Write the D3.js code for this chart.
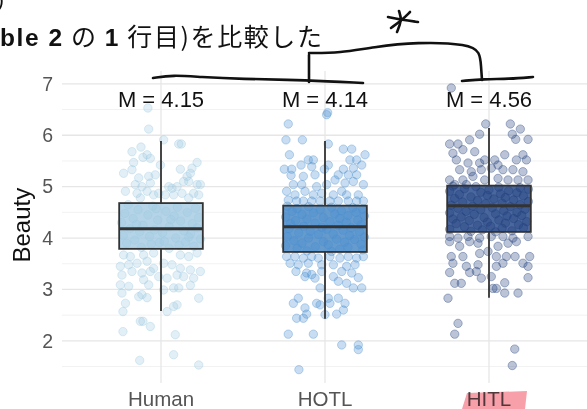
<!DOCTYPE html>
<html>
<head>
<meta charset="utf-8">
<script src="https://cdn.jsdelivr.net/npm/d3@7/dist/d3.min.js"></script>
<style>
html,body{margin:0;padding:0;background:#fff;}
svg{display:block;font-family:"Liberation Sans",Arial,sans-serif;}
</style>
</head>
<body>
<div id="chart"></div>
<script>
// groups and summary numbers
var groups = ["Human", "HOTL", "HITL"];
var means = [4.15, 4.14, 4.56];
var q1 = [3.79, 3.73, 4.12];
var medians = [4.18, 4.22, 4.63];
var q3 = [4.68, 4.63, 5.02];
var whiskLo = [2.58, 2.43, 2.84];
var whiskHi = [5.89, 5.89, 6.14];
var yTicks = [2, 3, 4, 5, 6, 7];

// jittered ratings: [value, horizontal jitter in category units]
var humanPts = [
	[6.53,-0.08],[6.12,-0.075],[5.91,0.016],[5.83,0.108],[5.83,0.124],[5.77,-0.122],[5.68,-0.177],[5.62,-0.085],
	[5.57,-0.11],[5.55,-0.065],[5.42,-0.004],[5.47,-0.167],[5.34,0.118],[5.36,0.189],[5.47,0.22],[5.26,-0.228],
	[5.33,-0.177],[5.17,-0.136],[5.2,-0.075],[5.23,-0.035],[5.2,0.159],[5.26,0.179],[5.04,-0.157],[5.0,-0.116],
	[5.07,-0.065],[5.0,0.047],[4.97,0.067],[5.0,0.098],[5.1,0.138],[5.1,0.169],[5.04,0.22],[5.04,0.24],
	[4.91,-0.217],[4.87,-0.146],[4.91,-0.085],[4.84,-0.045],[4.87,-0.014],[4.84,0.026],[4.84,0.077],[4.87,0.128],
	[4.87,0.199],[4.84,0.23],[4.78,-0.126],[4.78,0.169],
	[4.65,-0.2],[4.62,-0.05],[4.6,0.1],[4.58,0.21],[4.55,-0.14],[4.52,0.03],[4.5,0.16],[4.48,-0.22],[4.45,-0.08],
	[4.43,0.08],[4.4,0.23],[4.38,-0.17],[4.35,-0.02],[4.33,0.12],[4.3,-0.24],[4.28,0.19],[4.25,-0.11],[4.22,0.05],
	[4.2,0.22],[4.18,-0.19],[4.16,-0.04],[4.14,0.14],[4.12,-0.13],[4.1,0.01],[4.08,0.18],[4.05,-0.23],[4.03,-0.07],
	[4.0,0.09],[3.98,0.24],[3.96,-0.16],[3.94,0.02],[3.92,0.15],[3.9,-0.21],[3.88,-0.06],[3.86,0.11],[3.84,0.2],
	[3.82,-0.12],[3.8,0.05],[4.57,-0.03],[4.36,0.06],[4.27,-0.15],[4.02,0.17],[3.91,-0.01],
	[3.67,-0.228],[3.64,-0.187],[3.67,-0.106],[3.71,-0.045],[3.67,0.118],[3.64,0.169],[3.71,0.22],[3.45,-0.248],
	[3.48,-0.197],[3.51,-0.146],[3.55,-0.085],[3.41,-0.045],[3.51,0.016],[3.48,0.067],[3.41,0.118],[3.38,0.179],
	[3.35,0.24],[3.28,-0.238],[3.35,-0.177],[3.32,-0.116],[3.35,-0.065],[3.25,-0.014],[3.22,0.037],[3.28,0.098],
	[3.25,0.138],[3.22,0.199],[3.09,-0.248],[3.06,-0.197],[3.19,-0.106],[3.09,-0.075],[3.03,0.077],[3.03,0.108],
	[3.08,0.179],[2.99,0.016],[2.93,-0.238],[2.86,-0.136],[2.9,-0.116],[2.84,-0.085],[2.83,0.23],[2.73,-0.217],
	[2.57,0.037],[2.67,0.077],[2.7,0.098],[2.57,-0.232],[2.38,-0.126],[2.38,-0.11],[2.28,-0.065],[2.18,-0.232],
	[2.12,0.087],[1.73,0.077],[1.62,-0.13],[1.53,0.23]
];
var hotlPts = [
	[6.44,0.016],[6.22,-0.224],[6.4,0.01],[5.91,-0.238],[5.91,-0.138],[5.83,0.02],[5.73,0.112],[5.73,0.163],
	[5.62,-0.217],[5.62,0.244],[5.52,-0.102],[5.52,-0.071],[5.52,0.152],[5.52,0.193],[5.34,-0.248],[5.34,-0.203],
	[5.42,-0.146],[5.39,-0.081],[5.34,-0.004],[5.42,0.02],[5.34,0.112],[5.36,0.173],[5.42,0.224],[5.22,-0.207],
	[5.2,-0.132],[5.23,-0.061],[5.23,0.081],[5.23,0.142],[5.23,0.193],[5.04,-0.193],[5.04,-0.142],[5.0,-0.051],
	[5.04,0.01],[5.13,0.061],[5.07,0.122],[5.1,0.173],[5.04,0.234],[4.91,-0.234],[4.84,-0.183],[4.91,-0.122],
	[4.84,-0.071],[4.87,-0.02],[4.84,0.051],[4.91,0.102],[4.84,0.132],[4.84,0.203],[4.74,-0.224],[4.72,-0.173],
	[4.72,-0.132],[4.72,-0.081],[4.72,-0.03],[4.72,0.03],[4.72,0.081],[4.72,0.142],[4.72,0.193],[4.72,0.234],
	[4.62,-0.23],[4.61,-0.1],[4.6,0.04],[4.59,0.17],[4.57,-0.17],[4.56,0.23],[4.55,-0.03],[4.53,0.1],[4.52,-0.2],
	[4.5,0.19],[4.49,-0.07],[4.47,0.06],[4.46,-0.14],[4.44,0.14],[4.43,0.24],[4.41,-0.24],[4.4,-0.01],[4.38,0.09],
	[4.37,-0.11],[4.35,0.2],[4.34,-0.18],[4.32,0.03],[4.31,0.13],[4.29,-0.06],[4.28,-0.21],[4.26,0.22],[4.25,0.08],
	[4.23,-0.13],[4.21,-0.02],[4.2,0.16],[4.18,-0.22],[4.17,0.01],[4.15,0.11],[4.13,-0.09],[4.12,0.21],[4.1,-0.16],
	[4.08,0.05],[4.07,-0.04],[4.05,0.15],[4.03,-0.23],[4.02,0.24],[4.0,-0.1],[3.98,0.07],[3.97,0.18],[3.95,-0.19],
	[3.93,-0.01],[3.92,0.12],[3.9,-0.14],[3.88,0.22],[3.87,0.02],[3.85,-0.24],[3.83,-0.06],[3.82,0.14],[3.8,-0.17],
	[3.78,0.09],[3.77,0.23],[3.75,-0.11],[3.74,0.04],
	[3.64,-0.234],[3.64,-0.183],[3.61,-0.132],[3.64,-0.081],[3.61,-0.041],[3.64,0.03],[3.61,0.091],[3.64,0.142],
	[3.61,0.193],[3.64,0.234],[3.51,-0.213],[3.48,-0.163],[3.51,-0.102],[3.48,-0.02],[3.48,0.051],[3.45,0.132],
	[3.48,0.183],[3.35,-0.177],[3.32,-0.112],[3.22,-0.061],[3.35,-0.02],[3.25,0.051],[3.35,0.102],[3.32,0.163],
	[3.23,0.203],[3.25,-0.122],[3.29,-0.081],[3.16,0.081],[3.12,0.132],[3.03,0.173],[3.03,0.224],[3.03,-0.03],
	[2.83,-0.163],[2.73,-0.193],[2.73,-0.051],[2.7,-0.03],[2.83,0.02],[2.83,0.081],[2.73,0.122],[2.73,0.03],
	[2.64,-0.122],[2.6,0.112],[2.44,-0.173],[2.44,-0.132],[2.52,-0.112],[2.51,0.0],[2.52,0.071],[2.13,-0.224],
	[2.13,-0.071],[1.92,0.102],[1.92,0.203],[1.83,0.203],[1.44,-0.159]
];
var hitlPts = [
	[6.92,-0.23],[6.22,-0.02],[6.22,0.13],[6.02,-0.057],[6.02,0.142],[6.12,0.191],[5.83,-0.24],[5.83,-0.189],
	[5.91,-0.118],[5.92,0.163],[5.92,0.238],[5.65,-0.22],[5.72,-0.159],[5.68,-0.087],[5.52,-0.026],[5.52,0.035],
	[5.62,0.096],[5.62,0.207],[5.52,-0.199],[5.46,-0.128],[5.46,-0.057],[5.42,0.055],[5.52,0.167],[5.52,0.228],
	[5.33,-0.179],[5.29,-0.108],[5.33,-0.047],[5.36,0.014],[5.33,0.085],[5.33,0.146],[5.29,0.207],[5.13,-0.24],
	[5.13,-0.159],[5.2,-0.098],[5.13,-0.026],[5.16,0.055],[5.13,0.116],[5.13,0.177],[5.13,0.238],[5.04,-0.209],
	[5.04,-0.138],
	[5.01,-0.22],[5.0,-0.08],[4.99,0.06],[4.98,0.19],[4.96,-0.15],[4.95,0.24],[4.94,0.0],[4.92,0.12],[4.91,-0.24],
	[4.89,-0.05],[4.88,0.17],[4.86,0.07],[4.85,-0.18],[4.83,-0.01],[4.82,0.21],[4.8,-0.11],[4.79,0.1],[4.77,-0.21],
	[4.76,0.03],[4.74,0.15],[4.73,-0.07],[4.71,0.24],[4.7,-0.16],[4.68,0.08],[4.67,-0.02],[4.65,0.19],[4.64,-0.23],
	[4.62,-0.1],[4.61,0.13],[4.59,0.02],[4.58,-0.19],[4.56,0.22],[4.55,-0.05],[4.53,0.09],[4.52,-0.14],[4.5,0.17],
	[4.49,-0.24],[4.47,0.04],[4.46,-0.09],[4.44,0.2],[4.43,0.11],[4.41,-0.17],[4.4,-0.03],[4.38,0.15],[4.37,-0.22],
	[4.35,0.06],[4.34,-0.12],[4.32,0.23],[4.31,-0.01],[4.29,0.1],[4.28,-0.2],[4.26,0.18],[4.25,-0.07],[4.23,0.01],
	[4.22,-0.15],[4.2,0.21],[4.19,0.08],[4.17,-0.24],[4.16,-0.04],[4.14,0.14],[4.13,-0.11],[4.12,0.04],
	[4.03,-0.24],[4.0,-0.189],[4.03,-0.128],[4.0,-0.057],[4.03,0.014],[4.03,0.085],[4.0,0.146],[4.03,0.238],
	[3.93,-0.24],[3.84,-0.179],[3.93,-0.118],[3.9,-0.067],[3.84,0.055],[3.9,0.116],[3.93,0.167],[3.64,-0.23],
	[3.64,-0.159],[3.7,-0.057],[3.74,-0.006],[3.64,0.045],[3.64,0.106],[3.64,0.159],[3.64,0.248],[3.51,-0.22],
	[3.45,-0.138],[3.48,-0.067],[3.45,0.045],[3.51,0.085],[3.51,0.207],[3.33,-0.24],[3.33,-0.118],[3.35,-0.077],
	[3.45,0.238],[3.22,-0.047],[3.25,0.014],[3.23,0.238],[3.12,-0.209],[3.12,-0.169],[3.13,0.096],[3.02,0.024],
	[3.02,0.045],[2.93,0.096],[2.93,0.177],[2.83,-0.25],[2.34,-0.189],[2.13,-0.209],[1.84,0.157],[1.52,0.142]
];
var allPts = [humanPts, hotlPts, hitlPts];

var ptColor = ["#9ecae1", "#4a90d0", "#1f3d7a"];
var boxFill = ["#a8cde4", "#4b8ac6", "#2c4e8d"];

var W = 587, H = 409;
var svg = d3.select("#chart").append("svg").attr("width", W).attr("height", H);

var x = d3.scaleBand().domain(groups).range([79, 571]);
var y = d3.scaleLinear().domain([1.18, 7.25]).range([383, 71]);
var step = x.step();
var cx = function(g){ return x(g) + x.bandwidth() / 2; };
var boxW = step * 0.51;

// panel grid
var grid = svg.append("g");
grid.selectAll("line.minor").data(d3.range(1.5, 7.5, 1)).enter().append("line")
	.attr("x1", 62).attr("x2", W)
	.attr("y1", function(d){ return y(d); }).attr("y2", function(d){ return y(d); })
	.attr("stroke", "#f2f2f2").attr("stroke-width", 1);
grid.selectAll("line.major").data(yTicks).enter().append("line")
	.attr("x1", 62).attr("x2", W)
	.attr("y1", function(d){ return y(d); }).attr("y2", function(d){ return y(d); })
	.attr("stroke", "#e6e6e6").attr("stroke-width", 1.3);
grid.selectAll("line.vert").data(groups).enter().append("line")
	.attr("x1", cx).attr("x2", cx)
	.attr("y1", y.range()[1]).attr("y2", y.range()[0])
	.attr("stroke", "#e6e6e6").attr("stroke-width", 1.3);

// axes, domain lines hidden
var yAxis = svg.append("g").attr("transform", "translate(62,0)")
	.call(d3.axisLeft(y).tickValues(yTicks).tickFormat(d3.format("d")).tickSize(0).tickPadding(9));
yAxis.select(".domain").remove();
yAxis.selectAll("text").attr("font-size", 19.5).attr("fill", "#555")
	.attr("font-family", "Liberation Sans, Arial, sans-serif");

var xAxis = svg.append("g").attr("transform", "translate(0,383)")
	.call(d3.axisBottom(x).tickSize(0).tickPadding(8));
xAxis.select(".domain").remove();
xAxis.selectAll("text").attr("font-size", 20.5).attr("fill", "#555")
	.attr("font-family", "Liberation Sans, Arial, sans-serif");

svg.append("text")
	.attr("transform", "translate(30," + y(4.25) + ") rotate(-90)")
	.attr("text-anchor", "middle")
	.attr("font-size", 24).attr("fill", "#111")
	.text("Beauty");

// boxes and points
groups.forEach(function(g, i){
	var c = cx(g);
	var layer = svg.append("g");
	layer.append("rect")
		.attr("x", c - boxW / 2).attr("width", boxW)
		.attr("y", y(q3[i])).attr("height", y(q1[i]) - y(q3[i]))
		.attr("fill", boxFill[i]).attr("fill-opacity", 0.85);
	layer.selectAll("circle").data(allPts[i]).enter().append("circle")
		.attr("cx", function(d){ return c + d[1] * step; })
		.attr("cy", function(d){ return y(d[0]); })
		.attr("r", 4.2)
		.attr("fill", ptColor[i]).attr("fill-opacity", 0.3)
		.attr("stroke", ptColor[i]).attr("stroke-opacity", 0.45).attr("stroke-width", 0.8);
	layer.append("line")
		.attr("x1", c).attr("x2", c).attr("y1", y(whiskHi[i])).attr("y2", y(q3[i]))
		.attr("stroke", "#333").attr("stroke-width", 1.8);
	layer.append("line")
		.attr("x1", c).attr("x2", c).attr("y1", y(q1[i])).attr("y2", y(whiskLo[i]))
		.attr("stroke", "#333").attr("stroke-width", 1.8);
	layer.append("rect")
		.attr("x", c - boxW / 2).attr("width", boxW)
		.attr("y", y(q3[i])).attr("height", y(q1[i]) - y(q3[i]))
		.attr("fill", "none").attr("stroke", "#333").attr("stroke-width", 1.8);
	layer.append("line")
		.attr("x1", c - boxW / 2).attr("x2", c + boxW / 2)
		.attr("y1", y(medians[i])).attr("y2", y(medians[i]))
		.attr("stroke", "#333").attr("stroke-width", 3);
	svg.append("text")
		.attr("x", c).attr("y", y(6.55))
		.attr("text-anchor", "middle")
		.attr("font-size", 22).attr("fill", "#111")
		.text("M = " + means[i].toFixed(2));
});

// slide caption cut at the top
var cap = svg.append("text").attr("x", 0).attr("y", 46)
	.attr("font-size", 24.5).attr("fill", "#111").attr("letter-spacing", 1.6)
	.attr("font-family", "Liberation Sans, 'Noto Sans CJK JP', sans-serif");
cap.append("tspan").attr("font-weight", "bold").text("ble 2");
cap.append("tspan").attr("font-family", "Noto Sans CJK JP").attr("font-size", 25).text(" の ");
cap.append("tspan").attr("font-weight", "bold").text("1");
cap.append("tspan").attr("font-family", "Noto Sans CJK JP").attr("font-size", 25).text(" 行目)を比較した");
svg.append("text").attr("x", -3).attr("y", 7).attr("font-size", 21).attr("fill", "#111").text(")");

// handwritten notes: bracket, star, marker highlight
var ink = d3.line().curve(d3.curveBasis);
var xa = cx("HOTL"), xb = cx("HITL");
var strokes = [
	[[153,78],[173,75],[200,77],[240,79],[307,80],[363,83]],
	[[xa - 16,82],[xa - 16,68],[xa - 16,55]],
	[[xa - 16,53],[xa + 15,53],[xa + 48,47],[xa + 92,42],[xb - 20,44],[xb - 9,52],[xb - 8,66],[xb - 7,80]],
	[[xb - 27,81],[xb - 5,79],[xb + 20,79],[xb + 44,77]],
	[[388,17],[402,20],[418,22]],
	[[399,11],[402,20],[397,32]],
	[[410,12],[402,20],[391,28]]
];
svg.selectAll("path.ink").data(strokes).enter().append("path")
	.attr("d", ink).attr("fill", "none")
	.attr("stroke", "#111").attr("stroke-width", 2.6)
	.attr("stroke-linecap", "round").attr("stroke-linejoin", "round");
svg.append("path")
	.attr("d", "M" + (xb - 22) + ",393 L" + (xb + 38) + ",391 L" + (xb + 36) + ",409 L" + (xb - 27) + ",409Z")
	.attr("fill", "#f7a0a9").style("mix-blend-mode", "multiply");
</script>
</body>
</html>
